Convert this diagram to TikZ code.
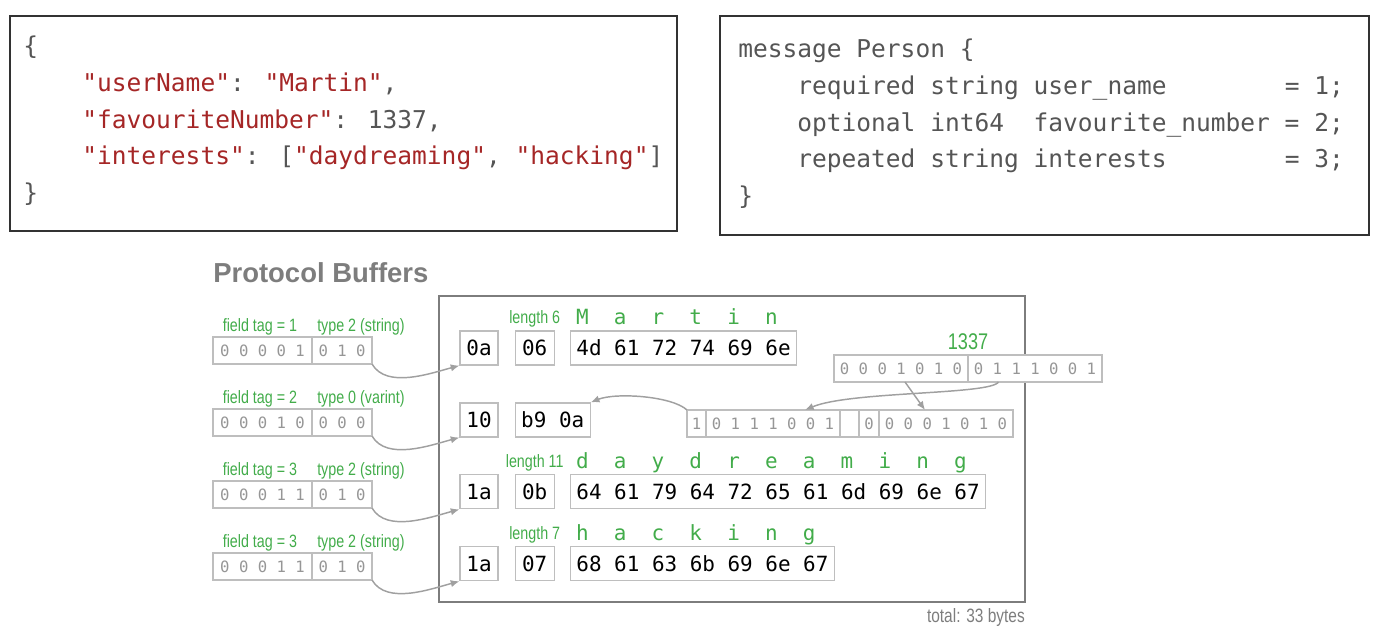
\documentclass[tikz,border=0pt]{standalone}
\usepackage{fontspec}
\setmainfont{Liberation Sans}
\newfontfamily\codefont{DejaVu Sans Mono}
\newfontfamily\narrowfont[FakeStretch=0.8]{Liberation Sans}
\usetikzlibrary{arrows,arrows.meta,positioning,calc}

\definecolor{pbgreen}{RGB}{66,172,74}
\definecolor{codered}{RGB}{165,38,38}
\definecolor{codegray}{RGB}{85,85,85}
\definecolor{panelgray}{RGB}{50,50,50}
\definecolor{cellgray}{RGB}{190,190,190}
\definecolor{bitgray}{RGB}{150,150,150}
\definecolor{framegray}{RGB}{125,125,125}
\definecolor{wiregray}{RGB}{160,160,160}

\tikzset{
	code/.style = {inner sep=0pt, anchor=base west, text=codegray, font=\codefont\fontsize{18.4pt}{22pt}\selectfont},
	panel/.style = {draw=panelgray, line width=1.1pt},
	hexbox/.style = {draw=cellgray, line width=0.9pt, fill=white, minimum height=25.5pt, inner ysep=0pt, inner xsep=4.5pt, font=\codefont\fontsize{15.7pt}{18pt}\selectfont},
	tagbox/.style = {hexbox, minimum width=28.5pt, inner xsep=0pt},
	lenbox/.style = {hexbox, minimum width=29.25pt, inner xsep=0pt},
	bitcell/.style = {draw=cellgray, line width=0.8pt, fill=white, minimum height=20.25pt, inner sep=0pt, outer sep=0pt, text=bitgray, font=\codefont\fontsize{11.7pt}{14pt}\selectfont},
	lbl/.style = {inner sep=0pt, text=pbgreen, font=\narrowfont\fontsize{13.4pt}{16pt}\selectfont},
	letters/.style = {inner sep=0pt, anchor=base west, text=pbgreen, font=\codefont\fontsize{15.7pt}{18pt}\selectfont},
	wire/.style = {-{Latex[length=6.5pt,width=5.5pt]}, draw=wiregray, line width=1.1pt}
}

\begin{document}
\begin{tikzpicture}[x=0.75pt, y=0.75pt]
    \useasboundingbox (0,0) rectangle (1384,640);

    % JSON panel
    \draw[panel] (10,624) rectangle (677,409);
    \node[code] (json1) at (23,585.5) {\{};
    \node[code] (json2) at (23,548.7) {\ \ \ \ \textcolor{codered}{"userName"}: \textcolor{codered}{"Martin"},};
    \node[code] (json3) at (23,511.9) {\ \ \ \ \textcolor{codered}{"favouriteNumber"}: 1337,};
    \node[code] (json4) at (23,475.1) {\ \ \ \ \textcolor{codered}{"interests"}: [\textcolor{codered}{"daydreaming"}, \textcolor{codered}{"hacking"}]};
    \node[code] (json5) at (23,438.3) {\}};

    % schema panel
    \draw[panel] (720,624) rectangle (1369,405);
    \node[code] (proto1) at (738,582.5) {message Person \{};
    \node[code] (proto2) at (738,545.7) {\ \ \ \ required string user\_name\ \ \ \ \ \ \ \ = 1;};
    \node[code] (proto3) at (738,508.9) {\ \ \ \ optional int64\ \ favourite\_number = 2;};
    \node[code] (proto4) at (738,472.1) {\ \ \ \ repeated string interests\ \ \ \ \ \ \ \ = 3;};
    \node[code] (proto5) at (738,435.3) {\}};

    \node[anchor=base west, inner sep=0pt, text=framegray, font=\bfseries\fontsize{20.6pt}{24pt}\selectfont] (title) at (213,358) {Protocol Buffers};
    \draw[framegray, line width=2.2pt] (439,344) rectangle (1025,38);
    \node[lbl, anchor=base east, text=framegray, font=\narrowfont\fontsize{14.5pt}{17pt}\selectfont] (total) at (1025,18) {total: 33 bytes};

    % key bytes
    \foreach \r/\hi/\lo/\ftag/\ftype/\tagv in {1/0 0 0 0 1/0 1 0/1/2 (string)/0a, 2/0 0 0 1 0/0 0 0/2/0 (varint)/10, 3/0 0 0 1 1/0 1 0/3/2 (string)/1a, 4/0 0 0 1 1/0 1 0/3/2 (string)/1a} {
        \node[bitcell, minimum width=74.25pt] (hi\r) at (262.5,{289.5-72*(\r-1)}) {\hi};
        \node[bitcell, minimum width=45pt, right=0pt of hi\r] (lo\r) {\lo};
        \node[lbl, anchor=base] (ftag\r) at ([xshift=-1.9pt, yshift=4.5pt]hi\r.north) {field tag = \ftag};
        \node[lbl, anchor=base west] (ftype\r) at ([xshift=3.75pt, yshift=4.5pt]lo\r.north west) {type \ftype};
        \node[tagbox] (tag\r) at (479,{292-71.9*(\r-1)}) {\tagv};
        \draw[wire] (lo\r.south east) to[out=-60, in=195, looseness=0.85] (tag\r.south west);
    }

    \node[lenbox, right=12pt of tag1] (len1) {06};
    \node[hexbox, right=11.25pt of len1] (bytes1) {4d 61 72 74 69 6e};
    \node[letters] (chars1) at ([xshift=4.5pt, yshift=4.5pt]bytes1.north west) {M~~a~~r~~t~~i~~n};
    \node[lbl, anchor=base] (lenlbl1) at ([yshift=5pt]len1.north) {length 6};

    \node[hexbox, right=12pt of tag2] (val2) {b9 0a};

    \node[lenbox, right=12pt of tag3] (len3) {0b};
    \node[hexbox, right=11.25pt of len3] (bytes3) {64 61 79 64 72 65 61 6d 69 6e 67};
    \node[letters] (chars3) at ([xshift=4.5pt, yshift=4.5pt]bytes3.north west) {d~~a~~y~~d~~r~~e~~a~~m~~i~~n~~g};
    \node[lbl, anchor=base] (lenlbl3) at ([yshift=5pt]len3.north) {length 11};

    \node[lenbox, right=12pt of tag4] (len4) {07};
    \node[hexbox, right=11.25pt of len4] (bytes4) {68 61 63 6b 69 6e 67};
    \node[letters] (chars4) at ([xshift=4.5pt, yshift=4.5pt]bytes4.north west) {h~~a~~c~~k~~i~~n~~g};
    \node[lbl, anchor=base] (lenlbl4) at ([yshift=5pt]len4.north) {length 7};

    % varint of 1337
    \node[bitcell, minimum width=100.5pt] (hi1337) at (901,271.5) {0 0 0 1 0 1 0};
    \node[bitcell, minimum width=100.5pt, right=0pt of hi1337] (lo1337) {0 1 1 1 0 0 1};
    \node[lbl, anchor=base, font=\narrowfont\fontsize{17pt}{20pt}\selectfont] (num) at ([yshift=4.5pt]hi1337.north east) {1337};

    \node[bitcell, minimum width=14.25pt] (vb1) at (696.5,216.5) {1};
    \node[bitcell, minimum width=100.5pt, right=0pt of vb1] (vb2) {0 1 1 1 0 0 1};
    \node[bitcell, minimum width=14.25pt, right=0pt of vb2] (vb3) {};
    \node[bitcell, minimum width=15pt, right=0pt of vb3] (vb4) {0};
    \node[bitcell, minimum width=100.5pt, right=0pt of vb4] (vb5) {0 0 0 1 0 1 0};

    \draw[wire] ([xshift=3pt]hi1337.south) -- ([xshift=-15.75pt]vb5.north);
    \draw[wire] ([xshift=-27.4pt]lo1337.south) .. controls +(-8,-13) and +(45,19) .. ([xshift=24pt]vb2.north);
    \draw[wire] (vb1.north west) .. controls +(-15,14) and +(25,10) .. (val2.north east);
\end{tikzpicture}
\end{document}
